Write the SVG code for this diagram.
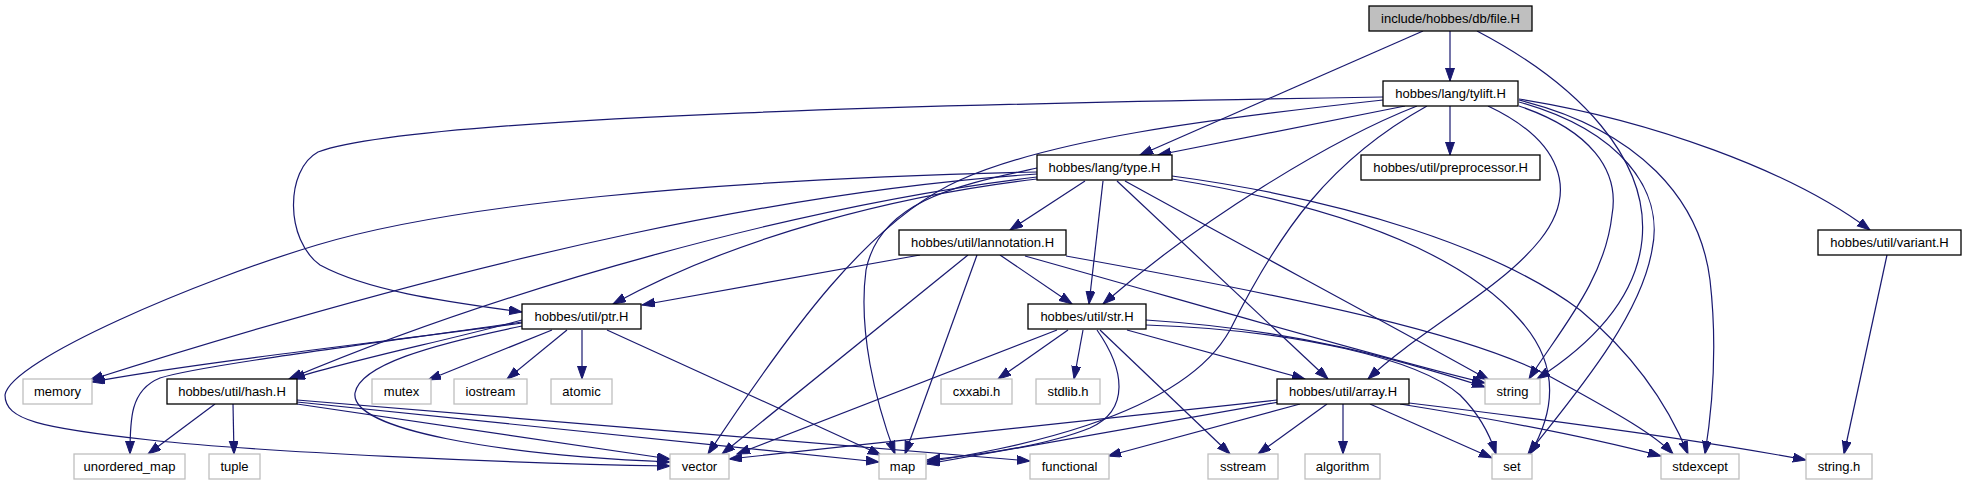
<svg xmlns="http://www.w3.org/2000/svg" width="1966" height="485" viewBox="0 0 1966 485">
<style>
.n rect{fill:#fff;stroke:#000;stroke-width:1.3}
.n.root rect{fill:#bfbfbf}
.n.sys rect{stroke:#bfbfbf}
.n text{font-family:"Liberation Sans",Arial,sans-serif;font-size:13px;fill:#000;text-anchor:middle}
#edges path{fill:none;stroke:#191970;stroke-width:1.2;marker-end:url(#ah)}
</style>
<defs>
<marker id="ah" markerUnits="userSpaceOnUse" markerWidth="14" markerHeight="10" refX="13" refY="4.5" orient="auto">
<path d="M0,0 L13,4.5 L0,9 z" fill="#191970" stroke="#191970" stroke-width="1"/>
</marker>
</defs>
<rect width="1966" height="485" fill="#fff"/>
<g id="edges">
<path d="M1450,31 L1450,81"/>
<path d="M1423,31 L1140,155"/>
<path d="M1477,31 C1580,85 1650,160 1642,240 C1636,300 1590,345 1537,379"/>
<path d="M1383,97 C1000,103 420,115 318,152 C285,170 285,240 320,265 C370,292 450,302 522,312"/>
<path d="M1383,100 C1200,120 1050,140 960,180 C870,220 790,330 708,454"/>
<path d="M1405,106 L1158,155"/>
<path d="M1417,106 C1330,140 1200,220 1103,304"/>
<path d="M1427,106 C1330,160 1280,230 1230,330 C1180,420 1000,450 927,462"/>
<path d="M1450,106 L1450,155"/>
<path d="M1488,106 C1560,140 1580,190 1540,240 C1500,290 1420,330 1368,379"/>
<path d="M1519,106 C1590,130 1620,170 1612,215 C1605,280 1560,330 1529,379"/>
<path d="M1519,102 C1620,130 1665,190 1652,250 C1640,320 1570,400 1528,454"/>
<path d="M1519,100 C1640,130 1700,200 1710,280 C1718,350 1712,410 1705,454"/>
<path d="M1519,99 C1650,120 1790,170 1870,230"/>
<path d="M1037,174 C800,190 500,250 90,380"/>
<path d="M1037,177 C800,205 500,290 289,379"/>
<path d="M1037,179 C900,195 740,235 613,304"/>
<path d="M1037,172 C700,180 450,205 317,245 C200,280 10,360 5,395 C5,420 40,428 150,440 C260,452 500,463 670,466"/>
<path d="M1037,168 C960,185 880,200 866,270 C858,330 875,400 895,454"/>
<path d="M1085,181 L1010,230"/>
<path d="M1103,181 L1089,304"/>
<path d="M1117,181 L1328,379"/>
<path d="M1125,181 C1250,250 1400,330 1489,380"/>
<path d="M1172,179 C1300,200 1450,240 1520,320 C1565,370 1550,420 1530,454"/>
<path d="M1172,176 C1350,200 1500,250 1580,310 C1640,360 1670,410 1688,454"/>
<path d="M920,255 L642,305"/>
<path d="M968,255 L722,454"/>
<path d="M977,255 L905,454"/>
<path d="M1000,255 L1072,304"/>
<path d="M1025,256 C1200,305 1380,358 1485,383"/>
<path d="M1066,256 C1300,298 1480,335 1560,382 C1620,415 1655,435 1673,454"/>
<path d="M1887,255 L1844,454"/>
<path d="M522,323 C400,340 200,362 92,382"/>
<path d="M522,320 C450,340 350,360 292,379"/>
<path d="M522,322 C400,340 200,365 160,378 C130,390 130,420 130,454"/>
<path d="M522,326 C430,345 360,365 355,393 C350,430 500,455 670,462"/>
<path d="M552,330 L428,380"/>
<path d="M567,330 L507,379"/>
<path d="M582,330 L582,379"/>
<path d="M607,330 L881,455"/>
<path d="M215,404 L148,454"/>
<path d="M233,404 L234,454"/>
<path d="M297,404 L670,459"/>
<path d="M297,402 L879,462"/>
<path d="M297,400 L1030,461"/>
<path d="M1057,330 L737,454"/>
<path d="M1068,330 L998,379"/>
<path d="M1083,330 L1074,379"/>
<path d="M1097,330 C1125,370 1130,410 1090,428 C1040,448 970,456 927,460"/>
<path d="M1100,330 L1230,454"/>
<path d="M1127,330 L1305,379"/>
<path d="M1146,320 C1300,330 1400,360 1485,387"/>
<path d="M1146,325 C1300,330 1420,360 1460,395 C1480,415 1490,435 1496,454"/>
<path d="M1277,400 L729,459"/>
<path d="M1279,402 L927,464"/>
<path d="M1300,404 L1108,456"/>
<path d="M1327,404 L1258,454"/>
<path d="M1343,404 L1343,454"/>
<path d="M1370,404 L1492,458"/>
<path d="M1400,404 C1500,420 1600,440 1661,456"/>
<path d="M1409,403 C1550,420 1700,440 1806,460"/>
</g>
<g id="n_file" class="n root"><rect x="1369" y="6" width="163" height="25"/><text x="1450.5" y="23">include/hobbes/db/file.H</text></g>
<g id="n_tylift" class="n"><rect x="1383" y="81" width="135" height="25"/><text x="1450.5" y="98">hobbes/lang/tylift.H</text></g>
<g id="n_type" class="n"><rect x="1037" y="155" width="135" height="25"/><text x="1104.5" y="172">hobbes/lang/type.H</text></g>
<g id="n_preproc" class="n"><rect x="1361" y="155" width="179" height="25"/><text x="1450.5" y="172">hobbes/util/preprocessor.H</text></g>
<g id="n_lannot" class="n"><rect x="899" y="230" width="167" height="25"/><text x="982.5" y="247">hobbes/util/lannotation.H</text></g>
<g id="n_variant" class="n"><rect x="1818" y="230" width="143" height="25"/><text x="1889.5" y="247">hobbes/util/variant.H</text></g>
<g id="n_ptr" class="n"><rect x="522" y="304" width="119" height="25"/><text x="581.5" y="321">hobbes/util/ptr.H</text></g>
<g id="n_str" class="n"><rect x="1028" y="304" width="118" height="25"/><text x="1087" y="321">hobbes/util/str.H</text></g>
<g id="n_memory" class="n sys"><rect x="23" y="379" width="69" height="25"/><text x="57.5" y="396">memory</text></g>
<g id="n_hash" class="n"><rect x="167" y="379" width="130" height="25"/><text x="232" y="396">hobbes/util/hash.H</text></g>
<g id="n_mutex" class="n sys"><rect x="372" y="379" width="59" height="25"/><text x="401.5" y="396">mutex</text></g>
<g id="n_iostream" class="n sys"><rect x="454" y="379" width="73" height="25"/><text x="490.5" y="396">iostream</text></g>
<g id="n_atomic" class="n sys"><rect x="551" y="379" width="61" height="25"/><text x="581.5" y="396">atomic</text></g>
<g id="n_cxxabi" class="n sys"><rect x="941" y="379" width="71" height="25"/><text x="976.5" y="396">cxxabi.h</text></g>
<g id="n_stdlib" class="n sys"><rect x="1036" y="379" width="64" height="25"/><text x="1068" y="396">stdlib.h</text></g>
<g id="n_array" class="n"><rect x="1277" y="379" width="132" height="25"/><text x="1343" y="396">hobbes/util/array.H</text></g>
<g id="n_string" class="n sys"><rect x="1485" y="379" width="55" height="25"/><text x="1512.5" y="396">string</text></g>
<g id="n_umap" class="n sys"><rect x="74" y="454" width="111" height="25"/><text x="129.5" y="471">unordered_map</text></g>
<g id="n_tuple" class="n sys"><rect x="209" y="454" width="51" height="25"/><text x="234.5" y="471">tuple</text></g>
<g id="n_vector" class="n sys"><rect x="670" y="454" width="59" height="25"/><text x="699.5" y="471">vector</text></g>
<g id="n_map" class="n sys"><rect x="879" y="454" width="47" height="25"/><text x="902.5" y="471">map</text></g>
<g id="n_functional" class="n sys"><rect x="1030" y="454" width="79" height="25"/><text x="1069.5" y="471">functional</text></g>
<g id="n_sstream" class="n sys"><rect x="1208" y="454" width="70" height="25"/><text x="1243" y="471">sstream</text></g>
<g id="n_algorithm" class="n sys"><rect x="1305" y="454" width="75" height="25"/><text x="1342.5" y="471">algorithm</text></g>
<g id="n_set" class="n sys"><rect x="1492" y="454" width="40" height="25"/><text x="1512" y="471">set</text></g>
<g id="n_stdexcept" class="n sys"><rect x="1661" y="454" width="78" height="25"/><text x="1700" y="471">stdexcept</text></g>
<g id="n_stringh" class="n sys"><rect x="1806" y="454" width="66" height="25"/><text x="1839" y="471">string.h</text></g>
</svg>
